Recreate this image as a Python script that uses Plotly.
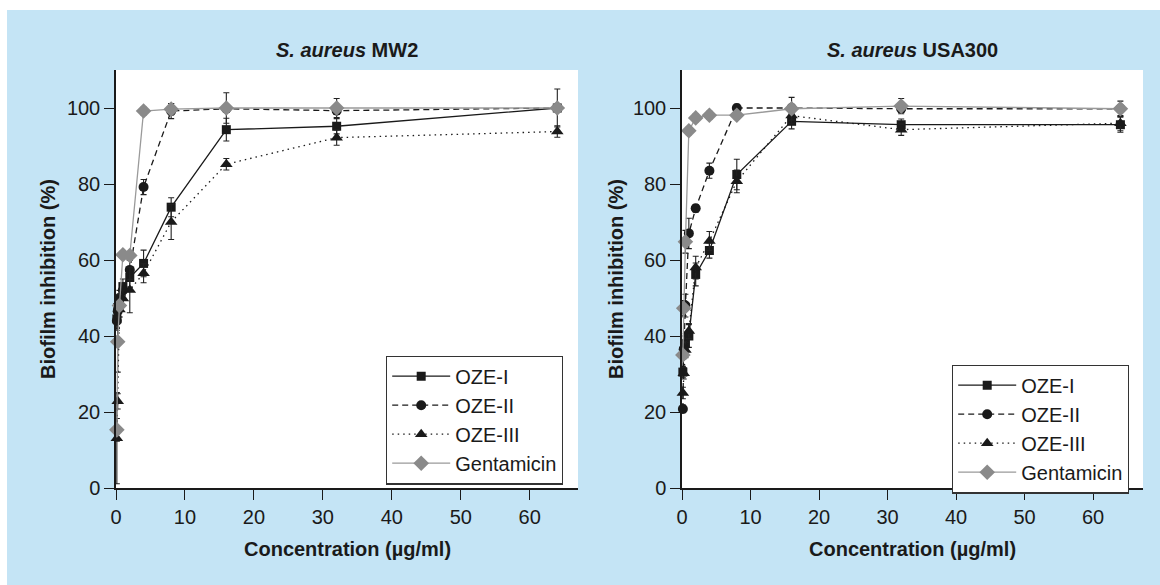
import plotly.graph_objects as go

# ---------------- data ----------------
conc = [0.125, 0.25, 0.5, 1, 2, 4, 8, 16, 32, 64]
series_names = ["OZE-I", "OZE-II", "OZE-III", "Gentamicin"]

mw2_oze1 = [44.5, 47.5, 48.5, 53.0, 55.4, 59.1, 73.9, 94.3, 95.2, 100.0]
mw2_oze1_err = [3, 2, 2, 2, 2.5, 3.5, 2.5, 3, 2, 5]
mw2_oze2 = [44.0, 46.5, 50.0, 52.0, 57.4, 79.2, 99.2, 99.8, 99.3, 100.0]
mw2_oze2_err = [2, 2, 2, 2, 2.5, 2, 2, 1, 1, 1]
mw2_oze3 = [13.1, 22.8, 47.0, 49.9, 52.1, 56.5, 70.0, 85.2, 92.2, 93.8]
mw2_oze3_err = [12, 2, 2, 2, 6, 2.5, 4.6, 1.5, 2, 1.5]
mw2_gent = [15.3, 38.5, 48.0, 61.4, 61.2, 99.2, 99.7, 100.0, 100.0, 100.0]
mw2_gent_err = [3, 8, 3, 1, 1, 1, 1.5, 4, 2.5, 1]

usa_oze1 = [30.5, 36.0, 38.0, 40.0, 56.2, 62.5, 82.5, 96.5, 95.6, 95.6]
usa_oze1_err = [1.5, 2, 2, 3, 3, 2, 4, 2, 1.5, 2]
usa_oze2 = [20.8, 36.5, 48.0, 67.0, 73.6, 83.5, 100.0, 100.0, 99.8, 99.8]
usa_oze2_err = [1, 2, 3, 4, 1, 2, 1, 1, 1, 1]
usa_oze3 = [25.0, 30.2, 36.3, 41.3, 58.0, 65.0, 80.7, 98.0, 94.3, 96.0]
usa_oze3_err = [1.5, 1.5, 2, 2, 3, 2.5, 3, 2, 1.5, 2]
usa_gent = [35.0, 47.3, 64.8, 94.0, 97.4, 98.1, 98.1, 99.8, 100.5, 99.8]
usa_gent_err = [1, 2, 3, 1, 1, 1, 1, 3, 2, 2]

x_ticks = [0, 10, 20, 30, 40, 50, 60]
y_ticks = [0, 20, 40, 60, 80, 100]
panel_titles = ["<b><i>S. aureus</i> MW2</b>", "<b><i>S. aureus</i> USA300</b>"]
x_title = "<b>Concentration (µg/ml)</b>"
y_title = "<b>Biofilm inhibition (%)</b>"

# ---------------- styles ----------------
W, H = 1160, 585
FONT = "Liberation Sans, Arial, Helvetica, sans-serif"
BLUE = "#c4e4f5"
styles = [
    dict(color="#1a1a1a", dash="solid", symbol="square", size=9, lcolor="#1a1a1a"),
    dict(color="#1a1a1a", dash="6px,4px", symbol="circle", size=10, lcolor="#1a1a1a"),
    dict(color="#1a1a1a", dash="1.5px,4px", symbol="triangle-up", size=11, lcolor="#1a1a1a"),
    dict(color="#8a8a8a", dash="solid", symbol="diamond", size=12, lcolor="#9a9a9a"),
]

panels = [
    ([mw2_oze1, mw2_oze2, mw2_oze3, mw2_gent],
     [mw2_oze1_err, mw2_oze2_err, mw2_oze3_err, mw2_gent_err], "x", "y", "legend"),
    ([usa_oze1, usa_oze2, usa_oze3, usa_gent],
     [usa_oze1_err, usa_oze2_err, usa_oze3_err, usa_gent_err], "x2", "y2", "legend2"),
]

fig = go.Figure()
for vals, errs, xa, ya, lg in panels:
    for name, v, e, st in zip(series_names, vals, errs, styles):
        fig.add_trace(go.Scatter(
            x=conc, y=v, name=name, mode="lines+markers",
            xaxis=xa, yaxis=ya, legend=lg, cliponaxis=False,
            line=dict(color=st["lcolor"], width=1.3, dash=st["dash"]),
            marker=dict(symbol=st["symbol"], size=st["size"], color=st["color"],
                        line=dict(width=0)),
            error_y=dict(type="data", array=e, visible=True,
                         color="#222222", thickness=1.1, width=3),
        ))

# pixel helpers
def px_x(p):
    return p / W

def px_y(p):
    return 1 - p / H

plot_top, plot_bot = 70, 488
left_dom = [px_x(116), px_x(578)]
right_dom = [px_x(682), px_x(1143)]
y_dom = [px_y(plot_bot), px_y(plot_top)]

axis_common = dict(
    showgrid=False, zeroline=False, showline=True, linecolor="#1a1a1a",
    linewidth=1.5, ticks="outside", ticklen=10, tickwidth=1.3, tickcolor="#1a1a1a",
    tickfont=dict(family=FONT, size=20, color="#1a1a1a"),
)
legend_common = dict(xanchor="left", yanchor="middle", bgcolor="white",
                     bordercolor="#333333", borderwidth=1.2, itemwidth=58,
                     font=dict(family=FONT, size=20, color="#1a1a1a"), tracegroupgap=0)
fig.update_layout(
    width=W, height=H, template="none",
    margin=dict(l=0, r=0, t=0, b=0),
    paper_bgcolor=BLUE, plot_bgcolor="white",
    font=dict(family=FONT, color="#1a1a1a"),
    xaxis=dict(domain=left_dom, range=[0, 67], tickvals=x_ticks, anchor="y", **axis_common),
    yaxis=dict(domain=y_dom, range=[0, 110], tickvals=y_ticks, anchor="x", **axis_common),
    xaxis2=dict(domain=right_dom, range=[0, 67.3], tickvals=x_ticks, anchor="y2", **axis_common),
    yaxis2=dict(domain=y_dom, range=[0, 110], tickvals=y_ticks, anchor="x2", **axis_common),
    legend=dict(x=px_x(386), y=px_y(420), **legend_common),
    legend2=dict(x=px_x(952), y=px_y(429), **legend_common),
    showlegend=True,
)

annotations = []
for title, dom in zip(panel_titles, [left_dom, right_dom]):
    cx = (dom[0] + dom[1]) / 2
    annotations.append(dict(text=title, x=cx, y=px_y(50), xref="paper", yref="paper",
                            showarrow=False, xanchor="center", yanchor="middle",
                            font=dict(family=FONT, size=20, color="#1a1a1a")))
    annotations.append(dict(text=x_title, x=cx, y=px_y(549), xref="paper", yref="paper",
                            showarrow=False, xanchor="center", yanchor="middle",
                            font=dict(family=FONT, size=20, color="#1a1a1a")))
for yx in [48, 616]:
    annotations.append(dict(text=y_title, x=px_x(yx), y=(y_dom[0] + y_dom[1]) / 2,
                            xref="paper", yref="paper", textangle=-90,
                            showarrow=False, xanchor="center", yanchor="middle",
                            font=dict(family=FONT, size=20, color="#1a1a1a")))
fig.update_layout(annotations=annotations)

# white margins outside the blue panel
fig.add_shape(type="rect", xref="paper", yref="paper", x0=0, x1=1, y0=px_y(10), y1=1,
              fillcolor="white", line=dict(width=0), layer="below")
fig.add_shape(type="rect", xref="paper", yref="paper", x0=0, x1=px_x(7), y0=0, y1=1,
              fillcolor="white", line=dict(width=0), layer="below")

fig.write_html("out.html")
